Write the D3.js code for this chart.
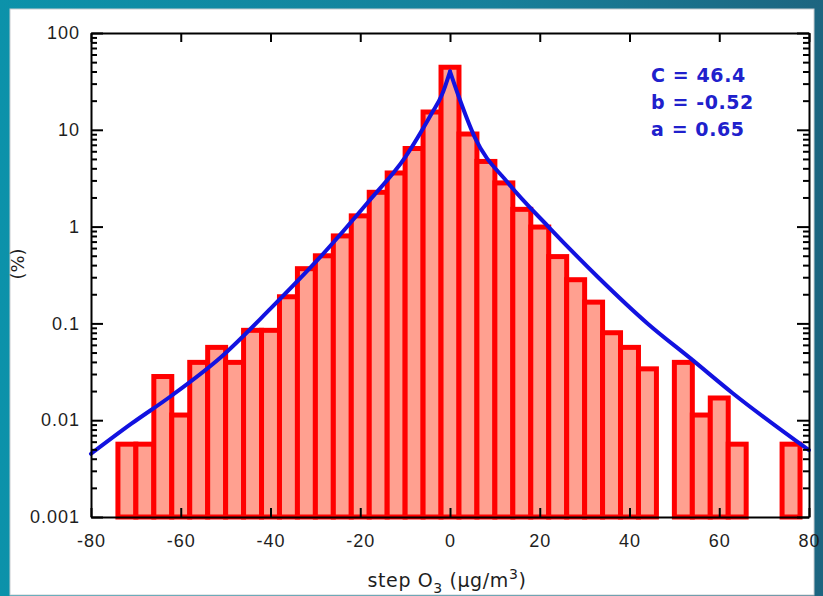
<!DOCTYPE html>
<html>
<head>
<meta charset="utf-8">
<script src="https://cdn.jsdelivr.net/npm/d3@7"></script>
<style>
    body { margin: 0; padding: 0; overflow: hidden; }
    svg { display: block; font-family: "DejaVu Sans", sans-serif; }
    .axis text { font-size: 18px; fill: #1e1e1e; letter-spacing: 1px; }
    .axis line, .axis path { stroke: #000; stroke-width: 2; }
</style>
</head>
<body>
<div class="chart"></div>
<script>
// Histogram bins (centre of each 4 ug/m3 bin) and share of steps in %
const binWidth = 4;
const binCenters = [-72, -68, -64, -60, -56, -52, -48, -44, -40, -36, -32, -28, -24, -20,
    -16, -12, -8, -4, 0, 4, 8, 12, 16, 20, 24, 28, 32, 36, 40, 44, 48, 52, 56, 60, 64, 68, 72, 76];
const binPercent = [0.006, 0.006, 0.030, 0.012, 0.042, 0.060, 0.042, 0.090, 0.090, 0.20, 0.39, 0.53, 0.85, 1.37,
    2.4, 3.8, 6.8, 16.2, 47, 9.6, 5.0, 3.0, 1.6, 1.05, 0.52, 0.30, 0.176, 0.085, 0.060, 0.036, null, 0.042, 0.012, 0.018, 0.006, null, null, 0.006];

// fitted curve (left and right branch meet at the cusp)
const fitLeftX = [-80, -71, -62, -51, -40, -29, -18, -10, -4, -1.8, 0];
const fitLeftY = [0.0045, 0.0092, 0.018, 0.045, 0.142, 0.48, 1.85, 5.2, 15, 23, 40];
const fitRightX = [0, 1.8, 5.5, 13, 22, 33, 44, 54, 63, 80];
const fitRightY = [40, 23, 8.4, 2.8, 0.99, 0.30, 0.10, 0.042, 0.019, 0.0049];

const fitLabels = ["C = 46.4", "b = -0.52", "a = 0.65"];
const xTicks = [-80, -60, -40, -20, 0, 20, 40, 60, 80];

const W = 823, H = 596;
let margin = { top: 33, right: 14, bottom: 79, left: 91 };
let width = W - margin.left - margin.right;
let height = H - margin.top - margin.bottom;

const svg = d3.select(".chart").append("svg").attr("width", W).attr("height", H);

// blue slide frame
const grad = svg.append("defs").append("linearGradient").attr("id", "frame")
    .attr("x1", "0%").attr("x2", "100%").attr("y1", "0%").attr("y2", "0%");
grad.append("stop").attr("offset", "0%").attr("stop-color", "#0c92aa");
grad.append("stop").attr("offset", "60%").attr("stop-color", "#17809a");
grad.append("stop").attr("offset", "100%").attr("stop-color", "#1d6580");
svg.append("rect").attr("width", W).attr("height", H).attr("fill", "url(#frame)");
svg.append("rect").attr("x", 10).attr("y", 9).attr("width", 804).attr("height", 586)
    .attr("fill", "#fff").attr("stroke", "#c8ccd0").attr("stroke-width", 1);

const g = svg.append("g").attr("transform", `translate(${margin.left},${margin.top})`);

const x = d3.scaleLinear().domain([-80, 80]).range([0, width]);
const y = d3.scaleLog().domain([0.001, 100]).range([height, 0]);

// bars
const sw = 5;
const bins = binCenters.map((c, i) => ({ c, v: binPercent[i] })).filter(d => d.v != null);
g.append("g")
    .selectAll("rect")
    .data(bins)
    .join("rect")
    .attr("x", d => x(d.c - binWidth / 2))
    .attr("width", d => x(d.c + binWidth / 2) - x(d.c - binWidth / 2))
    .attr("y", d => y(d.v) + sw / 2)
    .attr("height", d => height - y(d.v) - sw / 2)
    .attr("fill", "#ffa090")
    .attr("stroke", "#ff0000")
    .attr("stroke-width", sw);

// fitted curve
const line = d3.line().x(d => x(d[0])).y(d => y(d[1])).curve(d3.curveMonotoneX);
[[fitLeftX, fitLeftY], [fitRightX, fitRightY]].forEach(([xs, ys]) => {
    g.append("path")
        .datum(xs.map((v, i) => [v, ys[i]]))
        .attr("d", line)
        .attr("fill", "none")
        .attr("stroke", "#1212e0")
        .attr("stroke-width", 4)
        .attr("stroke-linecap", "round");
});

// axes
const isMajor = d => Math.abs(Math.log10(d) - Math.round(Math.log10(d))) < 1e-6;
const yFmt = d => isMajor(d) ? String(+d.toPrecision(1)) : "";
const yTicks = y.ticks();

g.append("g").attr("class", "axis")
    .attr("transform", `translate(0,${height})`)
    .call(d3.axisBottom(x).tickValues(xTicks).tickSizeInner(-9).tickSizeOuter(0).tickPadding(17)
        .tickFormat(d => String(d)));
g.append("g").attr("class", "axis")
    .call(d3.axisTop(x).tickValues(xTicks).tickSizeInner(-9).tickSizeOuter(0).tickFormat(""));

g.append("g").attr("class", "axis")
    .call(d3.axisLeft(y).tickValues(yTicks).tickSizeInner(-6).tickSizeOuter(0).tickPadding(11)
        .tickFormat(yFmt))
    .selectAll(".tick line").attr("x2", d => isMajor(d) ? 12 : 6);
g.append("g").attr("class", "axis")
    .attr("transform", `translate(${width},0)`)
    .call(d3.axisRight(y).tickValues(yTicks).tickSizeInner(-6).tickSizeOuter(0).tickFormat(""))
    .selectAll(".tick line").attr("x2", d => isMajor(d) ? -12 : -6);

// axis titles
const xt = svg.append("text")
    .attr("x", 447).attr("y", 587)
    .attr("text-anchor", "middle")
    .attr("font-size", "19px").attr("letter-spacing", "0.6px").attr("fill", "#1e1e1e");
xt.append("tspan").text("step O");
xt.append("tspan").attr("dy", 6).attr("font-size", "14px").text("3");
xt.append("tspan").attr("dy", -6).text(" (µg/m");
xt.append("tspan").attr("dy", -8).attr("font-size", "14px").text("3");
xt.append("tspan").attr("dy", 8).text(")");

svg.append("text")
    .attr("transform", "translate(24,264) rotate(-90)")
    .attr("text-anchor", "middle")
    .attr("font-size", "18px").attr("fill", "#1e1e1e")
    .text("(%)");

// fit parameters
svg.append("g")
    .selectAll("text")
    .data(fitLabels)
    .join("text")
    .attr("x", 651)
    .attr("y", (d, i) => 82 + i * 27)
    .attr("font-size", "19px")
    .attr("font-weight", "bold")
    .attr("letter-spacing", "0.6px")
    .attr("fill", "#2020cc")
    .text(d => d);
</script>
</body>
</html>
